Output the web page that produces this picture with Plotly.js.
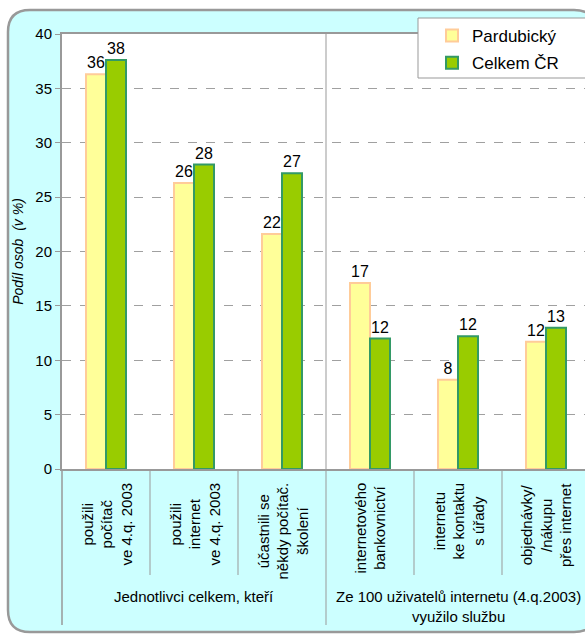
<!DOCTYPE html>
<html>
<head>
<meta charset="utf-8">
<script src="https://cdn.plot.ly/plotly-3.0.1.min.js"></script>
<style>
html,body{margin:0;padding:0;background:#fff;}
#chart{width:585px;height:635px;}
</style>
</head>
<body>
<div id="chart"></div>
<script>
// ---- data ----
const categories = [
  "použili<br>počítač<br>ve 4.q. 2003",
  "použili<br>internet<br>ve 4.q. 2003",
  "účastnili se<br>někdy počítač.<br>školení",
  "internetového<br>bankovnictví",
  "internetu<br>ke kontaktu<br>s úřady",
  "objednávky/<br>/nákupu<br>přes internet"
];
const groupLabels = [
  "Jednotlivci celkem, kteří",
  "Ze 100 uživatelů internetu (4.q.2003)<br>využilo službu"
];
const groupFirst = [0, 3];
const groupLast = [2, 5];
const seriesNames = ["Pardubický", "Celkem ČR"];
const pardubicky = [36.3, 26.3, 21.6, 17.1, 8.2, 11.7];
const celkemCR = [37.6, 28.0, 27.2, 12.0, 12.2, 13.0];
const yTickVals = [0, 5, 10, 15, 20, 25, 30, 35, 40];
const yTitle = "Podíl osob  (v %)";

// ---- layout helpers ----
const W = 585, H = 635, L = 62, T = 34, PW = 523, PH = 435;
const XR = [-0.5, -0.5 + PW / 88];
const px2x = p => (p - L) / PW;
const py2y = p => (T + PH - p) / PH;
const cat2x = v => (v - XR[0]) / (XR[1] - XR[0]);
const FONT = "Arial, 'Liberation Sans', sans-serif";

const idx = categories.map((_, i) => i);

const traces = [
  {
    type: "bar", name: seriesNames[0], x: idx, y: pardubicky,
    marker: { color: "#FFFF99", line: { color: "#FFCC99", width: 2 } },
    texttemplate: "%{y:.0f}", textposition: "outside", constraintext: "none",
    textfont: { family: FONT, size: 16, color: "#000" }, cliponaxis: false,
    legendgroup: "a", hoverinfo: "skip"
  },
  {
    type: "bar", name: seriesNames[1], x: idx, y: celkemCR,
    marker: { color: "#99CC00", line: { color: "#339966", width: 2 } },
    texttemplate: "%{y:.0f}", textposition: "outside", constraintext: "none",
    textfont: { family: FONT, size: 16, color: "#000" }, cliponaxis: false,
    legendgroup: "b", hoverinfo: "skip"
  }
];

// rounded background path in paper coords
function roundRect(x0p, y0p, x1p, y1p, r) {
  const x0 = px2x(x0p), x1 = px2x(x1p), yT = py2y(y0p), yB = py2y(y1p);
  const rx = r / PW, ry = r / PH;
  return `M${x0 + rx},${yT} L${x1 - rx},${yT} Q${x1},${yT} ${x1},${yT - ry} ` +
    `L${x1},${yB + ry} Q${x1},${yB} ${x1 - rx},${yB} L${x0 + rx},${yB} ` +
    `Q${x0},${yB} ${x0},${yB + ry} L${x0},${yT - ry} Q${x0},${yT} ${x0 + rx},${yT} Z`;
}

const shapes = [
  { type: "path", xref: "paper", yref: "paper", path: roundRect(8, 10, 596, 632, 22),
    fillcolor: "#CCFFFF", line: { color: "#999999", width: 2.5 }, layer: "below" },
  { type: "rect", xref: "paper", yref: "paper", x0: 0, x1: 1.05, y0: 0, y1: 1,
    fillcolor: "#FFFFFF", line: { width: 0 }, layer: "below" },
  // group separator through plot and label area
  { type: "line", xref: "paper", yref: "paper", x0: cat2x(2.5), x1: cat2x(2.5), y0: 1, y1: py2y(625),
    line: { color: "#999999", width: 1 }, layer: "below" },
  // left axis extension downward
  { type: "line", xref: "paper", yref: "paper", x0: 0, x1: 0, y0: 0, y1: py2y(625),
    line: { color: "#999999", width: 1.5 }, layer: "below" }
];
[0.5, 1.5, 3.5, 4.5].forEach(v => shapes.push({
  type: "line", xref: "paper", yref: "paper", x0: cat2x(v), x1: cat2x(v), y0: 0, y1: py2y(575),
  line: { color: "#999999", width: 1 }, layer: "below"
}));
// legend box
shapes.push({ type: "rect", xref: "paper", yref: "paper", x0: px2x(418), x1: px2x(600),
  y0: py2y(78), y1: py2y(18), fillcolor: "#FFFFFF", line: { color: "#999999", width: 1 }, layer: "above" });

const annotations = [];
categories.forEach((c, i) => annotations.push({
  xref: "x", yref: "paper", x: i, y: py2y(481), text: c, showarrow: false,
  textangle: -90, xanchor: "center", yanchor: "top", align: "center",
  font: { family: FONT, size: 15, color: "#000" }
}));
groupLabels.forEach((g, k) => annotations.push({
  xref: "x", yref: "paper", x: (groupFirst[k] + groupLast[k]) / 2, y: py2y(586), text: g,
  showarrow: false, xanchor: "center", yanchor: "top", align: "center",
  font: { family: FONT, size: 15, color: "#000" }
}));

const layout = {
  width: W, height: H,
  margin: { l: L, r: 0, t: T, b: H - T - PH, pad: 0 },
  paper_bgcolor: "#FFFFFF", plot_bgcolor: "rgba(0,0,0,0)",
  font: { family: FONT, color: "#000" },
  barmode: "group", bargap: 1 - 40 / 88, bargroupgap: 0,
  showlegend: true,
  legend: {
    x: px2x(432), xanchor: "left", y: py2y(18), yanchor: "top",
    bgcolor: "rgba(0,0,0,0)", borderwidth: 0,
    font: { family: FONT, size: 17, color: "#000" },
    traceorder: "grouped", tracegroupgap: 2
  },
  xaxis: {
    range: XR, showticklabels: false, ticks: "", showgrid: false, zeroline: false,
    showline: true, linecolor: "#999999", linewidth: 2, mirror: true, fixedrange: true
  },
  yaxis: {
    range: [0, 40], tickvals: yTickVals, ticks: "outside", ticklen: 5, tickwidth: 1,
    tickcolor: "#999999", tickfont: { family: FONT, size: 15, color: "#000" },
    showgrid: true, gridcolor: "#A0A0A0", gridwidth: 1, griddash: "dash",
    zeroline: false, showline: true, linecolor: "#999999", linewidth: 2, fixedrange: true,
    title: { text: yTitle, standoff: 8, font: { family: FONT, size: 14, style: "italic", color: "#000" } }
  },
  shapes: shapes,
  annotations: annotations
};

Plotly.newPlot("chart", traces, layout, { displayModeBar: false, staticPlot: true });
</script>
</body>
</html>
